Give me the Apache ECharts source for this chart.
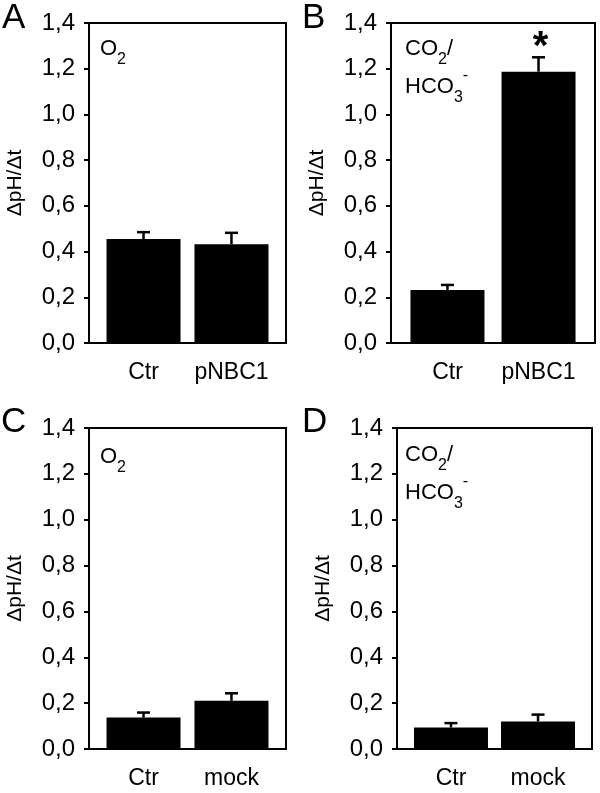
<!DOCTYPE html>
<html>
<head>
<meta charset="utf-8">
<script src="https://cdn.jsdelivr.net/npm/echarts@6/dist/echarts.min.js"></script>
<style>
html,body{margin:0;padding:0;background:#fff;}
#chart{width:600px;height:793px;}
</style>
</head>
<body>
<div id="chart"></div>
<script>
// ---- data ----
const panelLetters = ['A', 'B', 'C', 'D'];
const catsTop = ['Ctr', 'pNBC1'];
const catsBottom = ['Ctr', 'mock'];
const meanA = [0.455, 0.432];
const errA = [0.030, 0.050];
const meanB = [0.232, 1.187];
const errB = [0.022, 0.063];
const meanC = [0.137, 0.210];
const errC = [0.022, 0.033];
const meanD = [0.094, 0.120];
const errD = [0.019, 0.030];
const sigA = ['', ''];
const sigB = ['', '*'];
const sigC = ['', ''];
const sigD = ['', ''];
const yTicks = [0, 0.2, 0.4, 0.6, 0.8, 1.0, 1.2, 1.4];
const yName = 'ΔpH/Δt';

const FONT = '"Liberation Sans", Arial, sans-serif';

const panels = [
  { cats: catsTop, mean: meanA, err: errA, sig: sigA },
  { cats: catsTop, mean: meanB, err: errB, sig: sigB },
  { cats: catsBottom, mean: meanC, err: errC, sig: sigC },
  { cats: catsBottom, mean: meanD, err: errD, sig: sigD }
];

const grids = [
  { left: 89, top: 23, width: 197, height: 320 },
  { left: 391, top: 23, width: 204, height: 320 },
  { left: 89, top: 428, width: 197, height: 321 },
  { left: 397, top: 428, width: 195, height: 321 }
];

const chart = echarts.init(document.getElementById('chart'), null, { renderer: 'canvas' });

const xAxes = [], yAxes = [], series = [];
panels.forEach((p, i) => {
  xAxes.push({
    type: 'value', gridIndex: i, min: -0.62, max: 1.62,
    axisLine: { show: true, onZero: false, lineStyle: { color: '#000', width: 2 } },
    axisTick: { show: false },
    splitLine: { show: false },
    axisLabel: {
      customValues: p.cats.map((c, k) => k),
      formatter: v => p.cats[Math.round(v)],
      color: '#000', fontSize: 23, fontFamily: FONT, margin: 18
    }
  });
  yAxes.push({
    type: 'value', gridIndex: i, min: 0, max: 1.4, interval: 0.2,
    name: yName, nameLocation: 'middle', nameGap: 63,
    nameTextStyle: { color: '#000', fontSize: 21, fontFamily: FONT },
    axisLine: { show: true, onZero: false, lineStyle: { color: '#000', width: 2 } },
    axisTick: { show: true, length: 5, lineStyle: { color: '#000', width: 2 } },
    splitLine: { show: false },
    axisLabel: {
      customValues: yTicks,
      formatter: v => v.toFixed(1).replace('.', ','),
      color: '#000', fontSize: 24, fontFamily: FONT, margin: 14
    }
  });
  series.push({
    type: 'bar', xAxisIndex: i, yAxisIndex: i,
    data: p.mean.map((m, k) => [k, m]),
    barWidth: 74,
    itemStyle: { color: '#000' },
    silent: true, animation: false
  });
  const sigs = p.sig;
  series.push({
    type: 'custom', xAxisIndex: i, yAxisIndex: i,
    data: p.mean.map((m, k) => [k, m, p.err[k]]),
    encode: { x: 0, y: 1 },
    z: 5, silent: true, animation: false,
    renderItem: function (params, api) {
      const x = api.value(0), m = api.value(1), e = api.value(2);
      const p0 = api.coord([x, m]);
      const p1 = api.coord([x, m + e]);
      const ch = [
        { type: 'line', shape: { x1: p0[0], y1: p0[1], x2: p1[0], y2: p1[1] }, style: { stroke: '#000', lineWidth: 2.5 } },
        { type: 'line', shape: { x1: p1[0] - 6.5, y1: p1[1], x2: p1[0] + 6.5, y2: p1[1] }, style: { stroke: '#000', lineWidth: 2.5 } }
      ];
      const s = sigs[params.dataIndex];
      if (s) {
        ch.push({ type: 'text', style: { text: s, x: p1[0] + 2, y: p1[1] - 9, align: 'center', verticalAlign: 'middle', font: 'bold 40px ' + FONT, fill: '#000' } });
      }
      return { type: 'group', children: ch };
    }
  });
});

const richStyles = {
  m: { fontSize: 22, lineHeight: 38, fontFamily: FONT, color: '#000', verticalAlign: 'middle' },
  s: { fontSize: 16, lineHeight: 16, fontFamily: FONT, color: '#000', verticalAlign: 'bottom' },
  p: { fontSize: 16, lineHeight: 16, fontFamily: FONT, color: '#000', verticalAlign: 'top' }
};
const o2Text = '{m|O}{s|2}';
const co2Text = '{m|CO}{s|2}{m|/}\n{m|HCO}{s|3}{p|-}';

const graphic = [
  { type: 'text', left: 2, top: 1, style: { text: panelLetters[0], font: '35px ' + FONT, fill: '#000' } },
  { type: 'text', left: 302, top: 1, style: { text: panelLetters[1], font: '35px ' + FONT, fill: '#000' } },
  { type: 'text', left: 1, top: 405, style: { text: panelLetters[2], font: '35px ' + FONT, fill: '#000' } },
  { type: 'text', left: 302, top: 405, style: { text: panelLetters[3], font: '35px ' + FONT, fill: '#000' } },
  { type: 'text', left: 100, top: 38, style: { text: o2Text, rich: richStyles } },
  { type: 'text', left: 405, top: 38, style: { text: co2Text, rich: richStyles } },
  { type: 'text', left: 100, top: 446, style: { text: o2Text, rich: richStyles } },
  { type: 'text', left: 405, top: 444, style: { text: co2Text, rich: richStyles } }
];

chart.setOption({
  animation: false,
  backgroundColor: '#fff',
  grid: grids.map(g => Object.assign({ show: true, borderColor: '#000', borderWidth: 2, backgroundColor: 'transparent' }, g)),
  xAxis: xAxes,
  yAxis: yAxes,
  series: series,
  graphic: graphic
});
</script>
</body>
</html>
